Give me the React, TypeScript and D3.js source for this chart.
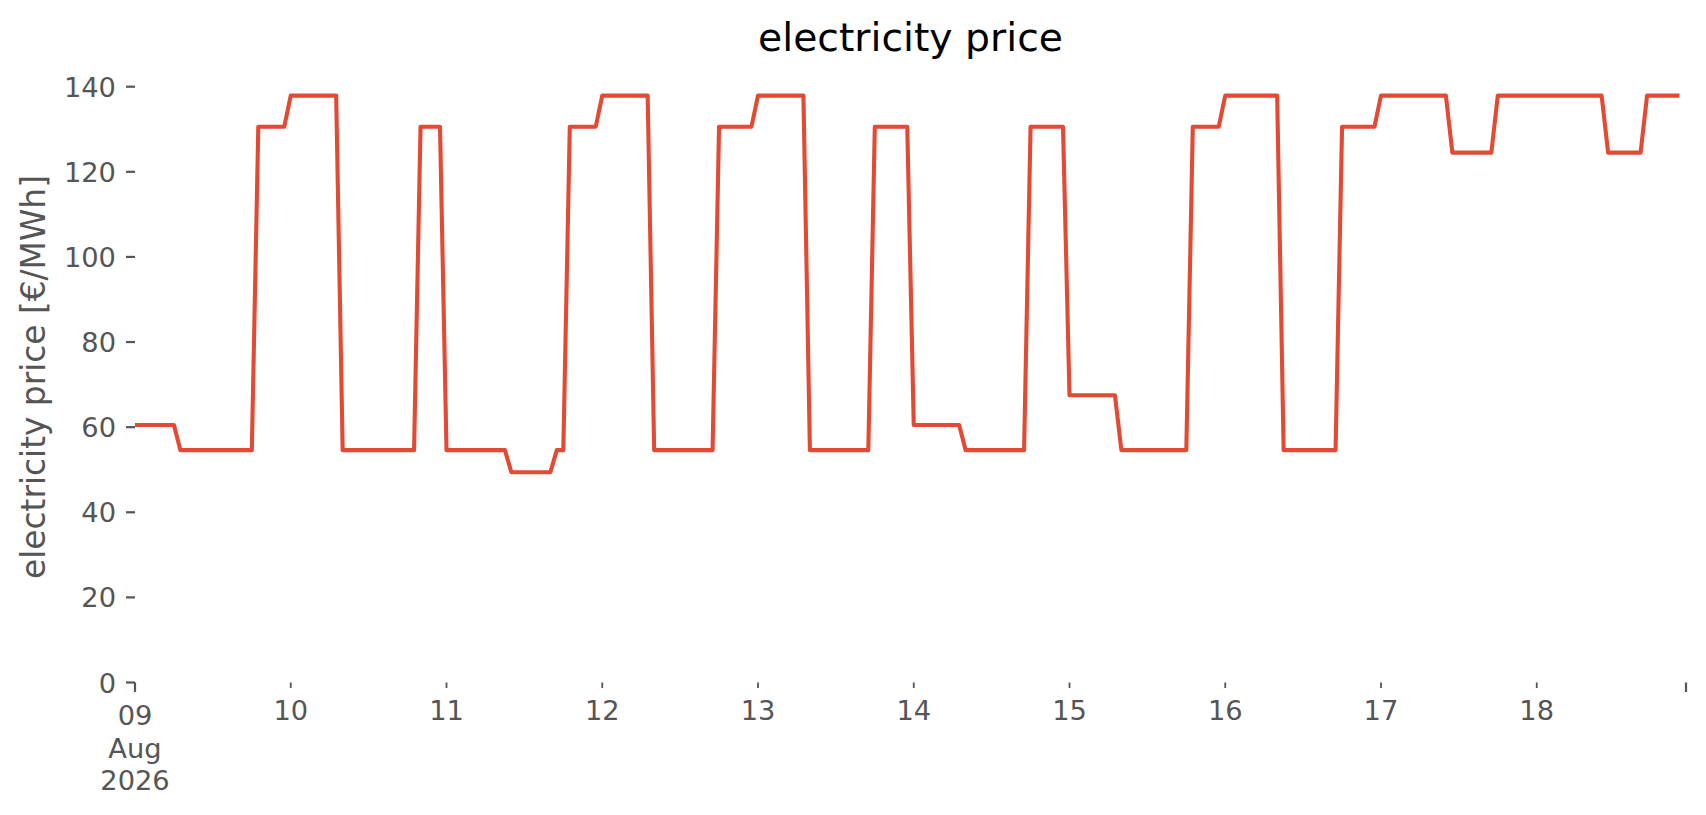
import React from "react";
import * as d3 from "d3";

// ---- data (hourly electricity price, €/MWh) ----
const startTime = "2026-08-09T00:00:00Z";
const endTime = "2026-08-18T23:00:00Z";

const aug09 = [60.5, 60.5, 60.5, 60.5, 60.5, 60.5, 60.5, 54.6, 54.6, 54.6, 54.6, 54.6, 54.6, 54.6, 54.6, 54.6, 54.6, 54.6, 54.6, 130.6, 130.6, 130.6, 130.6, 130.6];
const aug10 = [137.9, 137.9, 137.9, 137.9, 137.9, 137.9, 137.9, 137.9, 54.6, 54.6, 54.6, 54.6, 54.6, 54.6, 54.6, 54.6, 54.6, 54.6, 54.6, 54.6, 130.6, 130.6, 130.6, 130.6];
const aug11 = [54.6, 54.6, 54.6, 54.6, 54.6, 54.6, 54.6, 54.6, 54.6, 54.6, 49.4, 49.4, 49.4, 49.4, 49.4, 49.4, 49.4, 54.6, 54.6, 130.6, 130.6, 130.6, 130.6, 130.6];
const aug12 = [137.9, 137.9, 137.9, 137.9, 137.9, 137.9, 137.9, 137.9, 54.6, 54.6, 54.6, 54.6, 54.6, 54.6, 54.6, 54.6, 54.6, 54.6, 130.6, 130.6, 130.6, 130.6, 130.6, 130.6];
const aug13 = [137.9, 137.9, 137.9, 137.9, 137.9, 137.9, 137.9, 137.9, 54.6, 54.6, 54.6, 54.6, 54.6, 54.6, 54.6, 54.6, 54.6, 54.6, 130.6, 130.6, 130.6, 130.6, 130.6, 130.6];
const aug14 = [60.5, 60.5, 60.5, 60.5, 60.5, 60.5, 60.5, 60.5, 54.6, 54.6, 54.6, 54.6, 54.6, 54.6, 54.6, 54.6, 54.6, 54.6, 130.6, 130.6, 130.6, 130.6, 130.6, 130.6];
const aug15 = [67.5, 67.5, 67.5, 67.5, 67.5, 67.5, 67.5, 67.5, 54.6, 54.6, 54.6, 54.6, 54.6, 54.6, 54.6, 54.6, 54.6, 54.6, 54.6, 130.6, 130.6, 130.6, 130.6, 130.6];
const aug16 = [137.9, 137.9, 137.9, 137.9, 137.9, 137.9, 137.9, 137.9, 137.9, 54.6, 54.6, 54.6, 54.6, 54.6, 54.6, 54.6, 54.6, 54.6, 130.6, 130.6, 130.6, 130.6, 130.6, 130.6];
const aug17 = [137.9, 137.9, 137.9, 137.9, 137.9, 137.9, 137.9, 137.9, 137.9, 137.9, 137.9, 124.5, 124.5, 124.5, 124.5, 124.5, 124.5, 124.5, 137.9, 137.9, 137.9, 137.9, 137.9, 137.9];
const aug18 = [137.9, 137.9, 137.9, 137.9, 137.9, 137.9, 137.9, 137.9, 137.9, 137.9, 137.9, 124.5, 124.5, 124.5, 124.5, 124.5, 124.5, 137.9, 137.9, 137.9, 137.9, 137.9, 137.9];

const yTicks = [0, 20, 40, 60, 80, 100, 120, 140];
const firstTickLines = ["09", "Aug", "2026"];

const title = "electricity price";
const yLabel = "electricity price [€/MWh]";

// ---- layout ----
const W = 1706;
const H = 815;
const left = 135;
const right = 1686;
const bottom = 682.5;
const top140 = 86.7;
const font = "'DejaVu Sans', sans-serif";
const tickColor = "#555555";
const lineColor = "#E24A33";

export default function App() {
  const t0 = new Date(startTime);
  const t1 = new Date(endTime);
  const values = [...aug09, ...aug10, ...aug11, ...aug12, ...aug13, ...aug14, ...aug15, ...aug16, ...aug17, ...aug18];
  const data = values.map((v, i) => ({ t: d3.utcHour.offset(t0, i), v }));

  const x = d3.scaleUtc().domain([t0, t1]).range([left, right]);
  const y = d3.scaleLinear().domain([0, 140]).range([bottom, top140]);

  const line = d3
    .line<{ t: Date; v: number }>()
    .x((d) => x(d.t))
    .y((d) => y(d.v));

  const dayTicks = d3.utcDay.range(d3.utcDay.offset(t0, 1), t1);
  const fmtDay = d3.utcFormat("%d");

  return (
    <svg
      width={W}
      height={H}
      style={{ position: "absolute", left: 0, top: 0, display: "block", background: "#fff" }}
      fontFamily={font}
    >
      <rect x={0} y={0} width={W} height={H} fill="#ffffff" />
      {/* title */}
      <text x={(left + right) / 2} y={51} textAnchor="middle" fontSize={39.3} fill="#000">
        {title}
      </text>
      {/* y label */}
      <text
        transform={`translate(45, 377) rotate(-90)`}
        textAnchor="middle"
        fontSize={32.8}
        fill={tickColor}
      >
        {yLabel}
      </text>
      {/* y ticks */}
      {yTicks.map((t) => (
        <g key={t}>
          <line x1={left - 9} x2={left} y1={y(t)} y2={y(t)} stroke={tickColor} strokeWidth={2.2} />
          <text x={left - 19} y={y(t) + 10} textAnchor="end" fontSize={27.3} fill={tickColor}>
            {t}
          </text>
        </g>
      ))}
      {/* x major ticks */}
      <line x1={x(t0)} x2={x(t0)} y1={bottom} y2={bottom + 9.5} stroke={tickColor} strokeWidth={2.2} />
      <line x1={x(t1)} x2={x(t1)} y1={bottom} y2={bottom + 9.5} stroke={tickColor} strokeWidth={2.2} />
      <text textAnchor="middle" fontSize={27.3} fill={tickColor}>
        {firstTickLines.map((s, i) => (
          <tspan key={i} x={x(t0)} y={725 + i * 32.5}>
            {s}
          </tspan>
        ))}
      </text>
      {/* x minor (day) ticks */}
      {dayTicks.map((d) => (
        <g key={d.toISOString()}>
          <line x1={x(d)} x2={x(d)} y1={bottom} y2={bottom + 5.5} stroke={tickColor} strokeWidth={1.8} />
          <text x={x(d)} y={720} textAnchor="middle" fontSize={27.3} fill={tickColor}>
            {fmtDay(d)}
          </text>
        </g>
      ))}
      {/* price line */}
      <path
        d={line(data) ?? ""}
        fill="none"
        stroke={lineColor}
        strokeWidth={4.1}
        strokeLinejoin="round"
        strokeLinecap="butt"
      />
    </svg>
  );
}
